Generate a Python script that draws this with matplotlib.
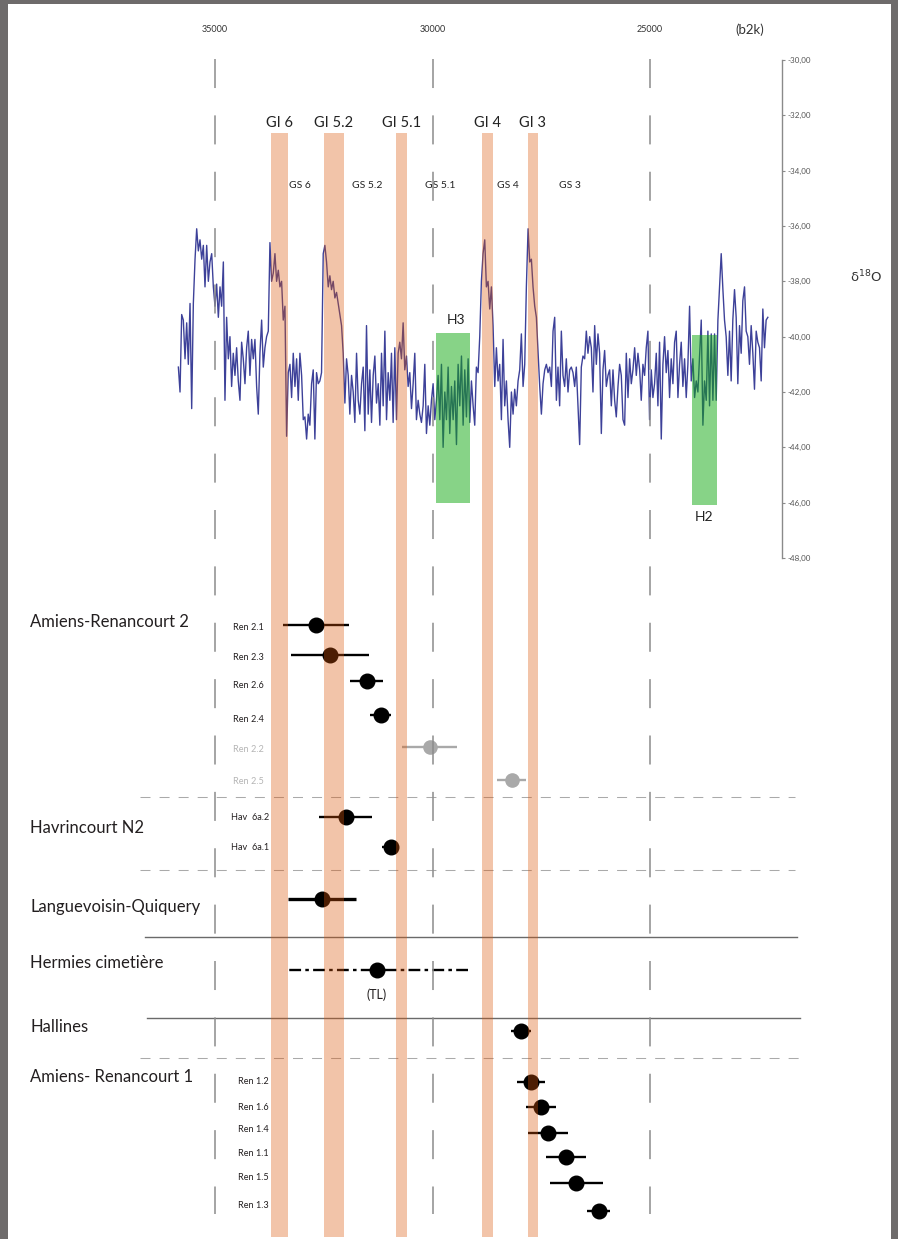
import matplotlib
matplotlib.use("Agg")
import matplotlib.pyplot as plt
import matplotlib.transforms as mtransforms
from matplotlib.patches import Rectangle

plt.rcParams["font.family"] = ["Lato", "DejaVu Sans"]

# --- NGRIP d18O (b2k) ---
ngrip_age = [
    35842, 35804, 35766, 35728, 35689, 35651, 35613, 35574,
    35536, 35498, 35459, 35421, 35383, 35345, 35306, 35268, 35230, 35191,
    35153, 35115, 35076, 35038, 35000, 34962, 34923, 34885, 34847, 34808,
    34771, 34733, 34694, 34656, 34618, 34580, 34541, 34503, 34465, 34426,
    34388, 34350, 34311, 34273, 34235, 34197, 34158, 34120, 34082, 34043,
    34005, 33967, 33928, 33890, 33852, 33814, 33775, 33737, 33699, 33660,
    33622, 33584, 33545, 33507, 33469, 33431, 33392, 33354, 33316, 33277,
    33239, 33201, 33162, 33124, 33086, 33048, 33009, 32971, 32933, 32894,
    32857, 32819, 32780, 32742, 32704, 32666, 32627, 32589, 32551, 32512,
    32474, 32436, 32397, 32359, 32321, 32283, 32244, 32206, 32168, 32129,
    32091, 32053, 32014, 31976, 31938, 31900, 31861, 31823, 31785, 31746,
    31708, 31670, 31631, 31593, 31555, 31517, 31478, 31440, 31402, 31363,
    31325, 31287, 31248, 31210, 31172, 31134, 31095, 31057, 31019, 30980,
    30943, 30905, 30866, 30828, 30790, 30752, 30713, 30675, 30637, 30598,
    30560, 30522, 30483, 30445, 30407, 30369, 30330, 30292, 30254, 30215,
    30177, 30139, 30100, 30062, 30024, 29986, 29947, 29909, 29871, 29832,
    29794, 29756, 29717, 29679, 29641, 29603, 29564, 29526, 29488, 29449,
    29411, 29373, 29334, 29296, 29258, 29220, 29181, 29143, 29105, 29066,
    29029, 28991, 28952, 28914, 28876, 28838, 28799, 28761, 28723, 28684,
    28646, 28608, 28569, 28531, 28493, 28455, 28416, 28378, 28340, 28301,
    28263, 28225, 28186, 28148, 28110, 28072, 28033, 27995, 27957, 27918,
    27880, 27842, 27803, 27765, 27727, 27689, 27650, 27612, 27574, 27535,
    27497, 27459, 27420, 27382, 27344, 27306, 27267, 27229, 27191, 27152,
    27115, 27077, 27038, 27000, 26962, 26924, 26885, 26847, 26809, 26770,
    26732, 26694, 26655, 26617, 26579, 26541, 26502, 26464, 26426, 26387,
    26349, 26311, 26272, 26234, 26196, 26158, 26119, 26081, 26043, 26004,
    25966, 25928, 25889, 25851, 25813, 25775, 25736, 25698, 25660, 25621,
    25583, 25545, 25506, 25468, 25430, 25392, 25353, 25315, 25277, 25238,
    25201, 25163, 25124, 25086, 25048, 25010, 24971, 24933, 24895, 24856,
    24818, 24780, 24741, 24703, 24665, 24627, 24588, 24550, 24512, 24473,
    24435, 24397, 24358, 24320, 24282, 24244, 24205, 24167, 24129, 24090,
    24052, 24014, 23975, 23937, 23899, 23861, 23822, 23784, 23746, 23707,
    23669, 23631, 23592, 23554, 23516, 23478, 23439, 23401, 23363, 23324,
    23287, 23249, 23210, 23172, 23134, 23096, 23057, 23019, 22981, 22942,
    22904, 22866, 22827, 22789, 22751, 22713, 22674, 22636, 22598, 22559,
    22521, 22483, 22444, 22406, 22368, 22330, 22291,
]
ngrip_d18o = [
    -41.1, -42.0, -39.2, -39.4, -40.8, -39.5, -41.0, -38.8,
    -42.6, -38.8, -37.2, -36.1, -36.9, -36.5, -37.2, -36.7, -38.2, -36.7,
    -38.0, -37.3, -37.0, -38.2, -38.9, -38.1, -39.3, -38.2, -38.9, -37.3,
    -42.3, -39.3, -40.8, -40.0, -41.8, -40.6, -41.4, -40.4, -41.6, -42.3,
    -40.2, -40.8, -41.7, -40.4, -39.8, -41.4, -40.1, -40.8, -40.1, -41.8,
    -42.8, -40.6, -39.4, -41.1, -40.4, -40.0, -39.8, -36.6, -38.0, -37.7,
    -37.0, -38.0, -37.6, -38.2, -38.0, -39.4, -38.9, -43.6, -41.3, -41.0,
    -42.2, -40.6, -41.8, -40.8, -42.3, -40.6, -41.4, -43.0, -42.9, -43.7,
    -42.8, -43.2, -41.7, -41.2, -43.7, -41.3, -41.7, -41.6, -41.3, -37.0,
    -36.7, -37.3, -38.2, -37.8, -38.3, -38.0, -38.6, -38.4, -38.8, -39.2,
    -39.6, -40.6, -42.4, -40.8, -41.4, -42.8, -41.4, -42.0, -43.1, -40.6,
    -42.3, -42.8, -41.7, -41.1, -43.4, -39.6, -42.8, -41.2, -43.1, -41.4,
    -40.7, -42.4, -41.7, -43.2, -40.6, -42.5, -39.8, -43.0, -41.3, -42.3,
    -40.6, -43.1, -40.4, -43.0, -40.6, -40.2, -40.8, -39.5, -41.2, -40.7,
    -41.8, -41.3, -42.6, -41.7, -40.6, -43.0, -42.3, -42.8, -43.1, -42.5,
    -41.0, -43.5, -42.5, -43.2, -42.3, -41.7, -43.0, -42.3, -41.4, -43.0,
    -41.0, -44.0, -42.0, -43.0, -41.1, -43.5, -41.8, -43.0, -41.6, -43.9,
    -41.0, -42.5, -40.7, -43.2, -41.2, -42.9, -40.8, -43.1, -41.6, -42.5,
    -43.2, -41.1, -41.3, -40.0, -38.0, -37.0, -36.5, -38.2, -38.0, -39.0,
    -38.2, -39.6, -41.8, -40.4, -41.6, -41.0, -43.0, -40.1, -42.5, -41.6,
    -43.0, -44.0, -42.0, -42.8, -41.9, -42.5, -41.6, -41.2, -39.9, -41.8,
    -41.0, -38.2, -36.1, -37.3, -37.2, -38.2, -38.9, -39.3, -40.5, -41.8,
    -42.8, -41.7, -41.2, -41.0, -41.3, -41.1, -41.8, -39.8, -39.3, -42.3,
    -41.1, -42.5, -39.8, -41.4, -41.8, -40.8, -42.0, -41.2, -41.1, -41.3,
    -41.8, -41.1, -42.5, -43.9, -41.1, -40.7, -40.8, -39.8, -40.6, -40.0,
    -40.4, -42.0, -39.6, -41.0, -39.9, -40.6, -43.5, -41.2, -40.5, -41.8,
    -41.4, -41.2, -42.5, -41.2, -42.3, -42.9, -41.8, -41.0, -41.4, -43.0,
    -43.2, -40.6, -42.2, -40.8, -41.7, -41.2, -40.4, -41.4, -40.6, -41.2,
    -42.3, -41.0, -41.4, -40.4, -39.8, -43.0, -41.2, -42.2, -41.7, -40.6,
    -42.5, -40.2, -43.7, -41.0, -40.0, -41.3, -40.5, -42.2, -40.8, -41.7,
    -40.2, -39.8, -42.2, -41.0, -40.2, -41.8, -40.8, -42.2, -41.0, -38.9,
    -41.6, -40.8, -42.2, -41.6, -42.0, -40.7, -39.4, -43.2, -41.6, -42.3,
    -39.8, -42.5, -39.9, -42.3, -39.9, -42.3, -39.4, -38.2, -37.0, -38.3,
    -39.4, -40.0, -41.4, -39.8, -41.6, -39.4, -38.3, -39.3, -41.7, -39.6,
    -40.6, -38.7, -38.2, -39.8, -40.0, -41.0, -39.6, -40.6, -41.9, -39.8,
    -40.2, -40.4, -41.6, -39.0, -40.4, -39.4, -39.3,
]

# interstadiaires (GI) et stadiaires (GS)
gi_names = ["GI 6", "GI 5.2", "GI 5.1", "GI 4", "GI 3"]
gi_old = [33710, 32500, 30840, 28870, 27810]
gi_young = [33320, 32040, 30590, 28615, 27580]
gs_names = ["GS 6", "GS 5.2", "GS 5.1", "GS 4", "GS 3"]
gs_age = [33050, 31490, 29830, 28270, 26850]

# evenements de Heinrich
h_names = ["H3", "H2"]
h_old = [29925, 24045]
h_young = [29145, 23470]
h_top = [-39.85, -39.95]
h_bottom = [-46.0, -46.1]

# dates (b2k) et incertitudes
site_names = ["Amiens-Renancourt 2", "Havrincourt N2", "Languevoisin-Quiquery",
              "Hermies cimetière", "Hallines", "Amiens- Renancourt 1"]
date_labels = ["Ren 2.1", "Ren 2.3", "Ren 2.6", "Ren 2.4", "Ren 2.2", "Ren 2.5",
               "Hav  6a.2", "Hav  6a.1", "", "", "",
               "Ren 1.2", "Ren 1.6", "Ren 1.4", "Ren 1.1", "Ren 1.5", "Ren 1.3"]
date_age = [32680, 32360, 31510, 31190, 30060, 28180, 31990, 30960, 32540, 31280,
            27970, 27740, 27510, 27350, 26940, 26690, 26180]
date_err = [750, 900, 380, 240, 630, 330, 610, 200, 780, 2100, 230, 320, 340, 460,
            460, 600, 260]
date_rejected = ["Ren 2.2", "Ren 2.5"]

axis_years = [35000, 30000, 25000]
d18o_ticks = [-30, -32, -34, -36, -38, -40, -42, -44, -46, -48]

# --- mise en page (pixels de la figure) ---
W, H = 898, 1239
X35, X25 = 215, 650
ppy = (X25 - X35) / 10000.0
xlim = (35000 + X35 / ppy, 35000 - (W - X35) / ppy)

row_y = [625, 655, 681, 715, 747, 780, 817, 847, 899, 970, 1031,
         1082, 1107, 1133, 1157, 1183, 1211]
label_y = [627, 657, 686, 720, 749, 781, 817, 848, 0, 0, 0,
           1082, 1108, 1130, 1154, 1178, 1205]
label_x = [233] * 6 + [231] * 2 + [0] * 3 + [238] * 6
site_y = [622, 828, 907, 963, 1027, 1077]

fig = plt.figure(figsize=(W / 100, H / 100), dpi=100)

# courbe isotopique
axc = fig.add_axes([0, 1 - 558 / H, 1, (558 - 60) / H])
axc.set_xlim(xlim)
axc.set_ylim(-48, -30)
axc.patch.set_alpha(0)
axc.set_zorder(1)
for s in ["top", "bottom", "left"]:
    axc.spines[s].set_visible(False)
axc.spines["right"].set_position(("axes", 782 / W))
axc.spines["right"].set_color("#8a8a8a")
axc.spines["right"].set_linewidth(1.0)
axc.set_xticks([])
axc.yaxis.set_ticks_position("right")
axc.set_yticks(d18o_ticks)
axc.set_yticklabels([f"{v:.2f}".replace(".", ",") for v in d18o_ticks])
axc.tick_params(axis="y", length=2.5, width=0.8, color="#8a8a8a", pad=1.5,
                labelsize=5.8, labelcolor="#555555")

axc.plot(ngrip_age, ngrip_d18o, color="#3d4199", lw=1.0, zorder=2)
for name, a0, a1, top, bot in zip(h_names, h_old, h_young, h_top, h_bottom):
    axc.add_patch(Rectangle((a0, bot), a1 - a0, top - bot, facecolor="#10a810",
                            alpha=0.5, lw=0, zorder=3))
    if name == "H3":
        axc.annotate(name, ((a0 + a1) / 2, top), xytext=(2, 5), textcoords="offset points",
                     ha="center", va="bottom", fontsize=10, color="#222222")
    else:
        axc.annotate(name, ((a0 + a1) / 2, bot), xytext=(0, -4), textcoords="offset points",
                     ha="center", va="top", fontsize=10, color="#222222")

# axe principal (bandes, dates, textes)
ax = fig.add_axes([0, 0, 1, 1])
ax.set_xlim(xlim)
ax.set_ylim(H, 0)
ax.axis("off")
ax.patch.set_alpha(0)
ax.set_zorder(2)
trans = mtransforms.blended_transform_factory(ax.transAxes, ax.transData)

for a in axis_years:
    ax.plot([a, a], [59, 1214], color="#8c8c8c", lw=1.1, ls=(0, (19, 17.9)), zorder=4)
    ax.text(a, 30, str(a), ha="center", va="center", fontsize=6.5, color="#333333")
ax.text(750 / W, 30, "(b2k)", transform=trans, ha="center", va="center",
        fontsize=9.5, color="#333333")
ax.text(866 / W, 277, "δ$^{18}$O", transform=trans, ha="center", va="center",
        fontsize=9.5, color="#333333", family="DejaVu Sans")

for name, a0, a1 in zip(gi_names, gi_old, gi_young):
    ax.axvspan(a0, a1, ymin=1 - 1237 / H, ymax=1 - 133 / H, color="#dc5609",
               alpha=0.35, lw=0, zorder=5)
    ax.text((a0 + a1) / 2, 123, name, ha="center", va="center", fontsize=10.5,
            color="#222222", zorder=6)
for name, a in zip(gs_names, gs_age):
    ax.text(a, 185, name, ha="center", va="center", fontsize=7.5, color="#222222")

# separateurs
for y, x0, x1 in [(797, 140, 795), (870, 140, 795), (1058, 140, 803)]:
    ax.plot([x0 / W, x1 / W], [y, y], transform=trans, color="#aaaaaa", lw=0.75,
            ls=(0, (9.6, 8.7)), zorder=2)
for y, x0, x1 in [(937, 145, 797), (1018, 147, 800)]:
    ax.plot([x0 / W, x1 / W], [y, y], transform=trans, color="#6a6a6a", lw=1.0, zorder=2)

for name, y in zip(site_names, site_y):
    ax.text(30 / W, y, name, transform=trans, ha="left", va="center", fontsize=12,
            color="#231f20")

for lab, age, err, y, ly, lx in zip(date_labels, date_age, date_err, row_y, label_y, label_x):
    grey = lab in date_rejected
    c = "#a9a9a9" if grey else "black"
    lw = 2.4 if y == 899 else 1.7
    eb = ax.errorbar(age, y, xerr=err, fmt="o", ms=10.5 if not grey else 9.5, color=c,
                     mec=c, ecolor=c, elinewidth=lw, capsize=0, zorder=3)
    if y == 970:
        eb[2][0].set_linestyle((0, (5, 1.8, 1.5, 1.8)))
        ax.text(age, 995, "(TL)", ha="center", va="center", fontsize=9, color="#231f20")
    if lab:
        ax.text(lx / W, ly, lab, transform=trans, ha="left", va="center", fontsize=6.6,
                color="#b5b5b5" if grey else "#231f20")

# cadre gris
for rect in [(0, 0, 8 / W, 1), (0, 1 - 4 / H, 1, 4 / H), (1 - 7 / W, 0, 7 / W, 1)]:
    fig.patches.append(Rectangle(rect[:2], rect[2], rect[3], transform=fig.transFigure,
                                 facecolor="#6e6b6b", lw=0, zorder=10))

fig.savefig("out.png", dpi=100)
plt.close(fig)
